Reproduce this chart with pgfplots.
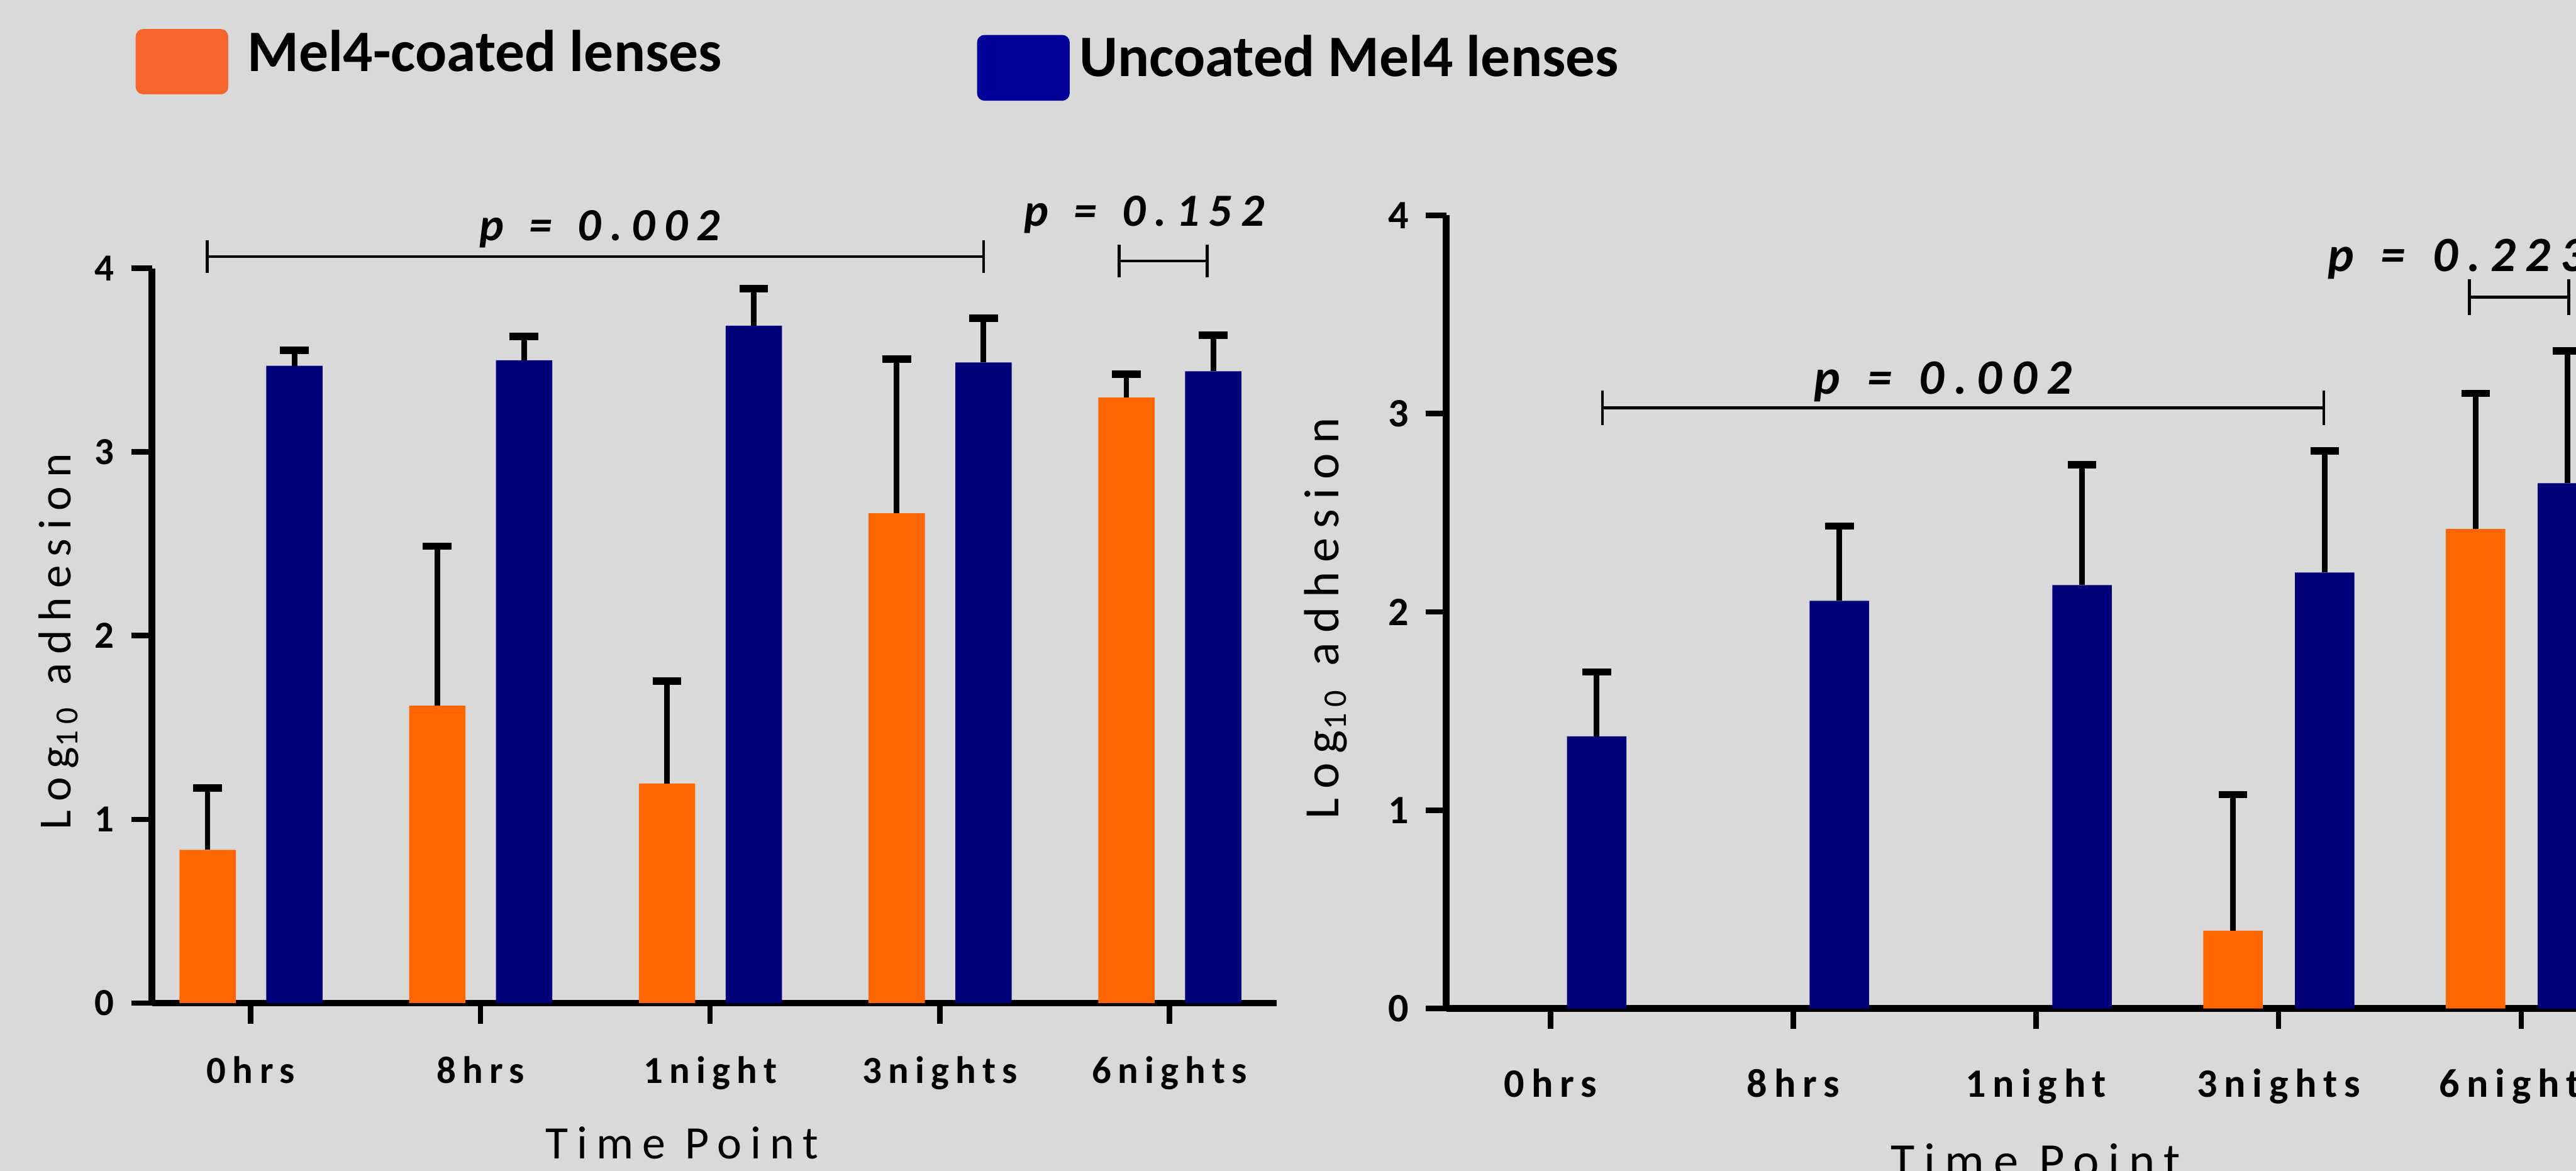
\documentclass[border=0pt]{standalone}
\usepackage{fontspec}
\setmainfont{Carlito}
\newfontfamily\spc[LetterSpace=17]{Carlito}
\newfontfamily\pspc[LetterSpace=20]{Carlito}
\newfontfamily\yspc[LetterSpace=19]{Carlito}
\usepackage{pgfplots}
\usepackage{pgfplotstable}
\pgfplotsset{compat=1.18}
\definecolor{bggrey}{HTML}{D9D9D9}
\definecolor{barorange}{HTML}{FF6600}
\definecolor{barblue}{HTML}{000078}
\definecolor{legorange}{HTML}{F3652A}
\definecolor{legblue}{HTML}{000099}

% left panel: x index, mean, upper error
\pgfplotstableread{
x  y      e
0  0.834  0.337
1  1.619  0.868
2  1.195  0.558
3  2.666  0.839
4  3.296  0.128
}\leftorange
\pgfplotstableread{
x  y      e
0  3.469  0.085
1  3.499  0.131
2  3.687  0.201
3  3.487  0.240
4  3.439  0.197
}\leftblue
% right panel
\pgfplotstableread{
x  y      e
3  0.393  0.686
4  2.418  0.684
}\rightorange
\pgfplotstableread{
x  y      e
0  1.373  0.324
1  2.056  0.377
2  2.135  0.607
3  2.199  0.613
4  2.649  0.666
}\rightblue

\newcommand{\pv}[1]{p\hspace{0.55em}=\hspace{0.55em}#1}

\pgfplotsset{
  mybars/.style={
    scale only axis,
    xmin=-0.43, xmax=4.465, ymin=0, ymax=4,
    axis x line*=bottom, axis y line*=left,
    axis line style={line width=1.6pt, -},
    tick align=outside,
    major tick length=5pt,
    every tick/.style={line width=1.3pt, black},
    xtick={0,1,2,3,4},
    xticklabels={0hrs,8hrs,1night,3nights,6nights},
    ytick={0,1,2,3,4},
    /pgf/number format/assume math mode=true,
    yticklabel style={font=\fontsize{9.3}{11}\selectfont\bfseries, anchor=east, inner sep=0pt},
    xticklabel style={font=\fontsize{9.3}{11}\selectfont\spc\bfseries, anchor=base, inner sep=0pt},
    clip=false,
    ylabel={Log\textsubscript{10}\hspace{0.45em}adhesion},
    xlabel={Time Point},
  },
  orangebar/.style={ybar, bar width=0.245, bar shift=0pt, fill=barorange, draw=none,
    error bars/.cd, y dir=plus, y explicit,
    error bar style={line width=1.35pt, black},
    error mark options={line width=1.8pt, black, mark size=3.5pt, rotate=90}},
  bluebar/.style={ybar, bar width=0.245, bar shift=0pt, fill=barblue, draw=none,
    error bars/.cd, y dir=plus, y explicit,
    error bar style={line width=1.35pt, black},
    error mark options={line width=1.8pt, black, mark size=3.5pt, rotate=90}},
}

\begin{document}
\begin{tikzpicture}
\useasboundingbox (0,0) rectangle (22cm,10.0005cm);
\clip (0,0) rectangle (22cm,10.0005cm);
\fill[bggrey] (0,0) rectangle (22cm,10.0005cm);

% legend
\fill[legorange, rounded corners=1.8pt] (1.1587cm,9.1951cm) rectangle (1.9494cm,9.7521cm);
\node[anchor=base west, inner sep=0pt, font=\fontsize{14.3}{17}\selectfont\bfseries] at (2.1085cm,9.3888cm) {Mel4-coated lenses};
\fill[legblue, rounded corners=1.8pt] (8.3445cm,9.1402cm) rectangle (9.1352cm,9.7021cm);
\node[anchor=base west, inner sep=0pt, font=\fontsize{14.3}{17}\selectfont\bfseries] at (9.2098cm,9.3491cm) {Uncoated Mel4 lenses};

% left panel
\begin{axis}[mybars,
  at={(1.29793cm,1.43418cm)}, anchor=south west,
  width=9.60267cm, height=6.27530cm,
  xticklabel style={yshift=-0.51cm},
  yticklabel style={xshift=-0.14cm},
  every axis x label/.style={at={(axis description cs:0.4713,-0.2119)}, anchor=base, inner sep=0pt,
    font=\fontsize{11.3}{13}\selectfont\yspc},
  every axis y label/.style={at={(axis description cs:-0.072,0.4918)}, rotate=90, anchor=base, inner sep=0pt,
    font=\fontsize{11.2}{13}\selectfont\yspc},
]
\addplot[orangebar] table[x expr=\thisrow{x}-0.188, y=y, y error=e] {\leftorange};
\addplot[bluebar] table[x expr=\thisrow{x}+0.19, y=y, y error=e] {\leftblue};
\draw[line width=0.7pt] (axis cs:-0.189,3.974) -- (axis cs:-0.189,4.152)
  (axis cs:-0.189,4.063) -- (axis cs:3.19,4.063)
  (axis cs:3.19,3.974) -- (axis cs:3.19,4.152);
\node[anchor=base, inner sep=0pt, font=\fontsize{11.2}{13}\selectfont\pspc\bfseries\itshape] at (axis cs:1.52,4.151) {\pv{0.002}};
\draw[line width=0.7pt] (axis cs:3.78,3.951) -- (axis cs:3.78,4.129)
  (axis cs:3.78,4.04) -- (axis cs:4.164,4.04)
  (axis cs:4.164,3.951) -- (axis cs:4.164,4.129);
\node[anchor=base west, inner sep=0pt, font=\fontsize{11.2}{13}\selectfont\pspc\bfseries\itshape] at (axis cs:3.363,4.23) {\pv{0.152}};
\end{axis}

% right panel
\begin{axis}[mybars,
  at={(12.35119cm,1.38694cm)}, anchor=south west,
  width=10.14472cm, height=6.77458cm,
  xticklabel style={font=\fontsize{9.8}{11}\selectfont\spc\bfseries, yshift=-0.58cm},
  yticklabel style={font=\fontsize{9.8}{11}\selectfont\bfseries, xshift=-0.14cm},
  every axis x label/.style={at={(axis description cs:0.4962,-0.2129)}, anchor=base, inner sep=0pt,
    font=\fontsize{12}{14}\selectfont\yspc},
  every axis y label/.style={at={(axis description cs:-0.0905,0.4919)}, rotate=90, anchor=base, inner sep=0pt,
    font=\fontsize{12}{14}\selectfont\yspc},
]
\addplot[orangebar] table[x expr=\thisrow{x}-0.188, y=y, y error=e] {\rightorange};
\addplot[bluebar] table[x expr=\thisrow{x}+0.19, y=y, y error=e] {\rightblue};
\draw[line width=0.7pt] (axis cs:0.214,2.942) -- (axis cs:0.214,3.118)
  (axis cs:0.214,3.03) -- (axis cs:3.186,3.03)
  (axis cs:3.186,2.942) -- (axis cs:3.186,3.118);
\node[anchor=base, inner sep=0pt, font=\fontsize{12}{14}\selectfont\pspc\bfseries\itshape] at (axis cs:1.618,3.10) {\pv{0.002}};
\draw[line width=0.7pt] (axis cs:3.787,3.497) -- (axis cs:3.787,3.679)
  (axis cs:3.787,3.588) -- (axis cs:4.195,3.588)
  (axis cs:4.195,3.497) -- (axis cs:4.195,3.679);
\node[anchor=base west, inner sep=0pt, font=\fontsize{12}{14}\selectfont\pspc\bfseries\itshape] at (axis cs:3.199,3.717) {\pv{0.223}};
\end{axis}
\end{tikzpicture}
\end{document}
